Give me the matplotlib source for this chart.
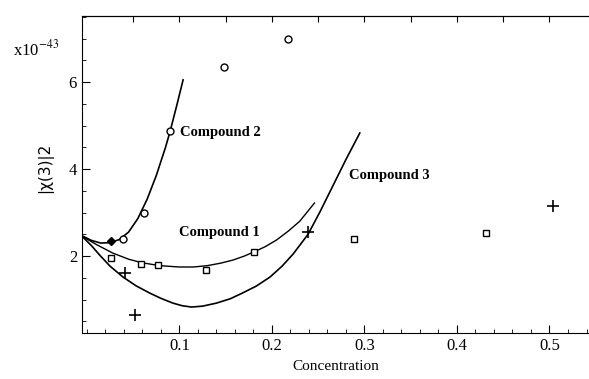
import matplotlib.pyplot as plt
from matplotlib.ticker import MultipleLocator

plt.rcParams['font.family'] = ['Liberation Serif', 'DejaVu Serif']
plt.rcParams['mathtext.fontset'] = 'stix'

# measured points
c2_x = [0.039, 0.062, 0.090, 0.148, 0.217]
c2_y = [2.39, 2.99, 4.87, 6.34, 6.99]
dia_x = [0.026]
dia_y = [2.34]
c1_x = [0.026, 0.058, 0.077, 0.129, 0.181, 0.289, 0.431]
c1_y = [1.95, 1.82, 1.79, 1.68, 2.09, 2.39, 2.53]
c3_x = [0.041, 0.052, 0.239, 0.504]
c3_y = [1.61, 0.64, 2.55, 3.15]

# fitted curves
f2_x = [-0.0054, 0.005, 0.015, 0.025, 0.035, 0.045, 0.055, 0.065, 0.075,
        0.085, 0.090, 0.097, 0.104]
f2_y = [2.47, 2.36, 2.30, 2.31, 2.38, 2.55, 2.86, 3.30, 3.85,
        4.50, 4.87, 5.45, 6.05]
f1_x = [-0.0054, 0.010, 0.028, 0.045, 0.059, 0.079, 0.100, 0.115, 0.130,
        0.145, 0.158, 0.170, 0.181, 0.193, 0.205, 0.218, 0.230, 0.246]
f1_y = [2.46, 2.27, 2.07, 1.93, 1.85, 1.78, 1.75, 1.75, 1.78,
        1.84, 1.91, 2.00, 2.10, 2.22, 2.37, 2.58, 2.80, 3.22]
f3_x = [-0.0054, 0.005, 0.014, 0.025, 0.039, 0.053, 0.068, 0.080, 0.093,
        0.103, 0.113, 0.125, 0.140, 0.155, 0.168, 0.183, 0.198, 0.211,
        0.223, 0.239, 0.252, 0.266, 0.280, 0.295]
f3_y = [2.46, 2.24, 2.02, 1.77, 1.52, 1.32, 1.15, 1.03, 0.92,
        0.86, 0.83, 0.85, 0.92, 1.02, 1.15, 1.31, 1.52, 1.77,
        2.05, 2.50, 3.02, 3.62, 4.22, 4.83]

fig = plt.figure(figsize=(5.89, 3.79), dpi=100)
ax = fig.add_axes([0.139, 0.121, 0.861, 0.837])

ax.plot(f2_x, f2_y, color='black', lw=1.2)
ax.plot(f1_x, f1_y, color='black', lw=1.0)
ax.plot(f3_x, f3_y, color='black', lw=1.2)

ax.plot(c2_x, c2_y, 'o', mfc='white', mec='black', ms=5, mew=1)
ax.plot(dia_x, dia_y, 'D', color='black', ms=4)
ax.plot(c1_x, c1_y, 's', mfc='white', mec='black', ms=5, mew=1)
ax.plot(c3_x, c3_y, '+', color='black', ms=8, mew=1.2)

ax.text(0.101, 4.85, 'Compound 2', fontsize=10.5, fontweight='bold', va='center')
ax.text(0.100, 2.55, 'Compound 1', fontsize=10.5, fontweight='bold', va='center')
ax.text(0.283, 3.85, 'Compound 3', fontsize=10.5, fontweight='bold', va='center')

ax.set_xlim(-0.0054, 0.5427)
ax.set_ylim(0.23, 7.52)

ax.spines['right'].set_visible(False)
ax.xaxis.set_minor_locator(MultipleLocator(0.02))
ax.yaxis.set_minor_locator(MultipleLocator(0.5))
ax.set_xticks([0.1, 0.2, 0.3, 0.4, 0.5])
ax.set_xticklabels(['0.1', '0.2', '0.3', '0.4', '0.5'])
ax.set_yticks([2, 4, 6])
ax.tick_params(which='both', direction='in', labelsize=12, top=False, right=False)
ax.tick_params(which='major', length=6)
ax.tick_params(which='minor', length=3)

top = ax.secondary_xaxis('top')
top.set_xticks([0.05 * i for i in range(1, 11)])
top.tick_params(direction='in', length=4, labeltop=False)

ax.set_xlabel('Concentration', fontsize=11)
ax.set_ylabel('|χ(3)|2', fontsize=11, family=['DejaVu Sans'])
ax.yaxis.set_label_coords(-0.057, 0.52)
fig.text(0.022, 0.855, 'x10$^{-43}$', fontsize=12)

fig.savefig('out.png', dpi=100)
